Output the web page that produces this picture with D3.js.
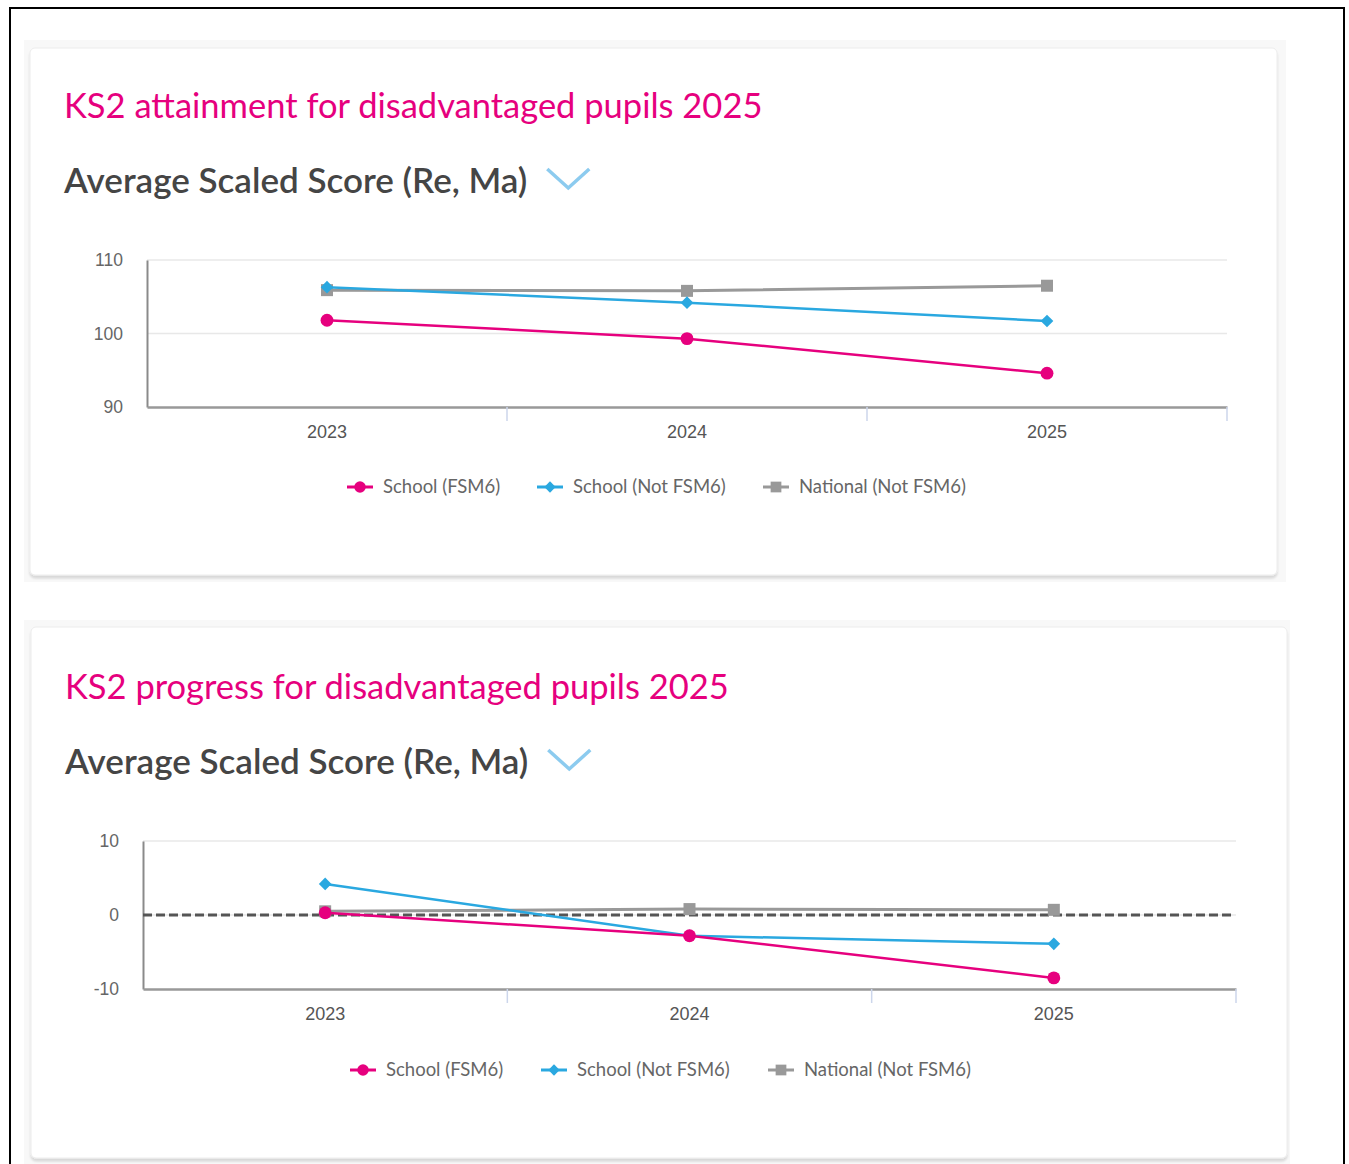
<!DOCTYPE html>
<html>
<head>
<meta charset="utf-8">
<script src="https://cdn.jsdelivr.net/npm/d3@7"></script>
<style>
  body { margin: 0; background: #fff; }
  svg { display: block; }
</style>
</head>
<body>
<div id="my_dataviz"></div>
<script>
// data
var years = ["2023", "2024", "2025"];
var seriesNames = ["School (FSM6)", "School (Not FSM6)", "National (Not FSM6)"];

var attainFSM6 = [101.8, 99.3, 94.6];
var attainNotFSM6 = [106.3, 104.2, 101.7];
var attainNational = [105.9, 105.8, 106.5];
var attainTicks = [90, 100, 110];

var progressFSM6 = [0.3, -2.8, -8.5];
var progressNotFSM6 = [4.2, -2.8, -3.9];
var progressNational = [0.5, 0.8, 0.7];
var progressTicks = [-10, 0, 10];

var colors = ["#e6007e", "#2aa8e0", "#999999"];
var symbols = [d3.symbolCircle, d3.symbolSquare, d3.symbolSquare];
var symbolSizes = [130, 80, 144];
var symbolRotate = [0, 45, 0];

var svg = d3.select("#my_dataviz")
    .append("svg")
    .attr("width", 1349)
    .attr("height", 1164);

var defs = svg.append("defs");
var f = defs.append("filter").attr("id", "shadow")
    .attr("x", "-2%").attr("y", "-2%").attr("width", "104%").attr("height", "106%");
f.append("feDropShadow")
    .attr("dx", 0).attr("dy", 3).attr("stdDeviation", 1.2)
    .attr("flood-color", "#000").attr("flood-opacity", 0.13);

// page border
svg.append("rect")
    .attr("x", 10).attr("y", 8)
    .attr("width", 1334).attr("height", 1170)
    .attr("fill", "none").attr("stroke", "#000").attr("stroke-width", 2);

function drawPanel(cfg) {
    // outer grey area + card
    svg.append("rect")
        .attr("x", cfg.outer[0]).attr("y", cfg.outer[1])
        .attr("width", cfg.outer[2]).attr("height", cfg.outer[3])
        .attr("fill", "#f8f8f8");
    svg.append("rect")
        .attr("x", cfg.card[0]).attr("y", cfg.card[1])
        .attr("width", cfg.card[2]).attr("height", cfg.card[3])
        .attr("rx", 5)
        .attr("fill", "#fff")
        .attr("stroke", "#ececec")
        .attr("filter", "url(#shadow)");

    svg.append("text")
        .attr("x", cfg.titleX).attr("y", cfg.titleY)
        .attr("fill", "#e6007e")
        .style("font-family", "Lato, 'Open Sans', sans-serif")
        .style("font-size", "34.5px")
        .text(cfg.title);

    var sub = svg.append("text")
        .attr("x", cfg.titleX).attr("y", cfg.titleY + 75)
        .attr("fill", "#454545")
        .style("font-family", "Lato, 'Open Sans', sans-serif")
        .style("font-size", "35px")
        .style("font-weight", "600")
        .text("Average Scaled Score (Re, Ma)");
    var sw = sub.node().getComputedTextLength();
    var cx = cfg.titleX + sw + 20;
    var cy = cfg.titleY + 75 - 24;
    svg.append("path")
        .attr("d", "M" + cx + "," + cy + " L" + (cx + 21) + "," + (cy + 19) + " L" + (cx + 42) + "," + cy)
        .attr("fill", "none")
        .attr("stroke", "#8ccbef")
        .attr("stroke-width", 3.5);

    var x = d3.scaleBand()
        .domain(years)
        .range([cfg.left, cfg.right]);

    var y = d3.scaleLinear()
        .domain([cfg.ticks[0], cfg.ticks[2]])
        .range([cfg.bottom, cfg.top]);

    var g = svg.append("g");

    // gridlines
    g.selectAll("line.grid")
        .data(cfg.ticks.slice(1))
        .enter().append("line")
        .attr("class", "grid")
        .attr("x1", cfg.left).attr("x2", cfg.right)
        .attr("y1", function (d) { return y(d); })
        .attr("y2", function (d) { return y(d); })
        .attr("stroke", "#e8e8e8").attr("stroke-width", 1.5);

    // y axis
    var yAxis = g.append("g")
        .attr("transform", "translate(" + cfg.left + ",0)")
        .call(d3.axisLeft(y).tickValues(cfg.ticks).tickSize(0).tickPadding(24)
            .tickFormat(function (d) { return String(d); }));
    yAxis.select(".domain").attr("stroke", "#8a8a8a").attr("stroke-width", 2);
    yAxis.selectAll("text")
        .attr("fill", "#666")
        .style("font-family", "'Liberation Sans', Arial, sans-serif")
        .style("font-size", "17.5px");

    // x axis
    var xAxis = g.append("g")
        .attr("transform", "translate(0," + cfg.bottom + ")")
        .call(d3.axisBottom(x).tickSize(0).tickPadding(18));
    xAxis.select(".domain").attr("stroke", "#999").attr("stroke-width", 2.5);
    xAxis.selectAll("text")
        .attr("fill", "#555")
        .style("font-family", "'Liberation Sans', Arial, sans-serif")
        .style("font-size", "18px");
    xAxis.selectAll("line.bound")
        .data(years)
        .enter().append("line")
        .attr("class", "bound")
        .attr("x1", function (d) { return x(d) + x.bandwidth(); })
        .attr("x2", function (d) { return x(d) + x.bandwidth(); })
        .attr("y1", 0).attr("y2", 14)
        .attr("stroke", "#ccd6eb").attr("stroke-width", 1.5);

    if (cfg.zeroLine) {
        g.append("line")
            .attr("x1", cfg.left).attr("x2", cfg.right - 3)
            .attr("y1", y(0)).attr("y2", y(0))
            .attr("stroke", "#555").attr("stroke-width", 3)
            .attr("stroke-dasharray", "9,4");
    }

    var line = d3.line()
        .x(function (d, i) { return x(years[i]) + x.bandwidth() / 2; })
        .y(function (d) { return y(d); });

    // draw National first, then blue, then pink
    [2, 1, 0].forEach(function (k) {
        var vals = cfg.series[k];
        g.append("path")
            .datum(vals)
            .attr("d", line)
            .attr("fill", "none")
            .attr("stroke", colors[k])
            .attr("stroke-width", k == 2 ? 3 : 2.5);
        g.selectAll("path.pt" + k)
            .data(vals)
            .enter().append("path")
            .attr("class", "pt" + k)
            .attr("transform", function (d, i) {
                return "translate(" + (x(years[i]) + x.bandwidth() / 2) + "," + y(d) + ") rotate(" + symbolRotate[k] + ")";
            })
            .attr("d", d3.symbol().type(symbols[k]).size(symbolSizes[k]))
            .attr("fill", colors[k]);
    });

    // legend
    var legend = svg.append("g")
        .attr("transform", "translate(0," + cfg.legendY + ")");
    var item = legend.selectAll("g")
        .data(seriesNames)
        .enter().append("g")
        .attr("transform", function (d, i) { return "translate(" + cfg.legendX[i] + ",0)"; });
    item.append("line")
        .attr("x1", 0).attr("x2", 26)
        .attr("stroke", function (d, i) { return colors[i]; })
        .attr("stroke-width", 3);
    item.append("path")
        .attr("transform", function (d, i) { return "translate(13,0) rotate(" + symbolRotate[i] + ")"; })
        .attr("d", function (d, i) { return d3.symbol().type(symbols[i]).size(symbolSizes[i] * 0.8)(); })
        .attr("fill", function (d, i) { return colors[i]; });
    item.append("text")
        .attr("x", 36).attr("y", 6)
        .attr("fill", "#666")
        .style("font-family", "Lato, 'Open Sans', sans-serif")
        .style("font-size", "18.5px")
        .text(function (d) { return d; });
}

drawPanel({
    outer: [24, 40, 1262, 542],
    card: [30, 48, 1247, 527],
    title: "KS2 attainment for disadvantaged pupils 2025",
    titleX: 64, titleY: 118,
    left: 147, right: 1227, top: 260, bottom: 407,
    ticks: attainTicks,
    series: [attainFSM6, attainNotFSM6, attainNational],
    zeroLine: false,
    legendY: 487,
    legendX: [347, 537, 763]
});

drawPanel({
    outer: [24, 620, 1266, 544],
    card: [31, 627, 1256, 531],
    title: "KS2 progress for disadvantaged pupils 2025",
    titleX: 65, titleY: 699,
    left: 143, right: 1236, top: 841, bottom: 989,
    ticks: progressTicks,
    series: [progressFSM6, progressNotFSM6, progressNational],
    zeroLine: true,
    legendY: 1070,
    legendX: [350, 541, 768]
});
</script>
</body>
</html>
